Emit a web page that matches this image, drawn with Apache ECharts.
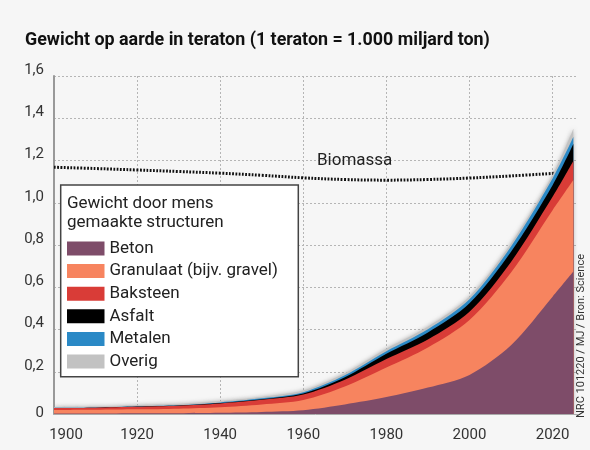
<!DOCTYPE html>
<html><head><meta charset="utf-8">
<script src="https://cdn.jsdelivr.net/npm/echarts@6/dist/echarts.min.js"></script>
<style>html,body{margin:0;padding:0;background:#f6f6f6}#c{width:590px;height:450px}</style>
</head><body><div id="c"></div>
<script>
// ---- data (teraton) ----
const years      = [1900,1910,1920,1930,1940,1950,1960,1970,1980,1990,2000,2010,2020,2025];
const beton      = [0.002,0.002,0.003,0.004,0.006,0.010,0.018,0.045,0.080,0.125,0.185,0.325,0.555,0.674];
const granulaat  = [0.017,0.018,0.019,0.021,0.026,0.035,0.048,0.085,0.140,0.190,0.260,0.345,0.410,0.434];
const baksteen   = [0.009,0.010,0.012,0.014,0.018,0.022,0.026,0.032,0.040,0.038,0.039,0.050,0.063,0.090];
const asfalt     = [0.000,0.000,0.001,0.001,0.002,0.003,0.005,0.012,0.025,0.033,0.040,0.048,0.055,0.080];
const metalen    = [0.001,0.001,0.002,0.002,0.003,0.004,0.006,0.009,0.012,0.015,0.019,0.025,0.032,0.033];
const overig     = [0.004,0.004,0.005,0.005,0.006,0.007,0.008,0.010,0.012,0.012,0.012,0.013,0.015,0.039];
const bioYears   = [1900,1910,1920,1930,1940,1950,1960,1970,1980,1990,2000,2010,2021];
const biomassa   = [1.168,1.162,1.155,1.148,1.140,1.130,1.118,1.110,1.107,1.110,1.117,1.127,1.140];
const seriesNames = ['Beton','Granulaat (bijv. gravel)','Baksteen','Asfalt','Metalen','Overig'];
const seriesData  = [beton, granulaat, baksteen, asfalt, metalen, overig];
const xTicks = [1900,1920,1940,1960,1980,2000,2020];
const titleText = 'Gewicht op aarde in teraton (1 teraton = 1.000 miljard ton)';
const legendTitle = 'Gewicht door mens\ngemaakte structuren';
const bioLabel = 'Biomassa';
const sourceText = 'NRC 101220 / MJ / Bron: Science';

// ---- styling ----
const colors = ['#7e4c69','#f7845f','#d93c37','#000000','#2a89c6','#c2c2c2'];
const ctx = document.createElement('canvas').getContext('2d');
function fit(txt, weight, family, target){ ctx.font = weight+' 100px '+family; return 100*target/ctx.measureText(txt).width; }
const TF = "'Liberation Sans Narrow', Roboto, sans-serif";
const BF = "Roboto, 'Noto Sans', sans-serif";
const titleSize = Math.min(18, fit(titleText,'bold',TF,465));
const legSize = Math.min(17, fit('Granulaat (bijv. gravel)','normal',BF,180));

// stacked tops (running sums of the layers)
const cum = [];
seriesData.forEach((arr,i)=>{ cum.push(arr.map((v,j)=> v + (i ? cum[i-1][j] : 0))); });

const chart = echarts.init(document.getElementById('c'), null, {renderer:'canvas'});
const series = [];
for (let i = seriesNames.length-1; i >= 0; i--) {
  const top = i === seriesNames.length-1;
  series.push({
    name:seriesNames[i], type:'line', smooth:0.3, symbol:'none', z:3,
    color: colors[i],
    lineStyle:{width:0},
    areaStyle: top ? {color:colors[i], opacity:1, shadowBlur:4, shadowColor:'rgba(140,140,140,0.7)'}
                   : {color:colors[i], opacity:1},
    data: years.map((y,j)=>[y, cum[i][j]])
  });
}
series.push({
  name:'Biomassa', type:'line', smooth:0.4, symbol:'none', z:2,
  lineStyle:{color:'#111', width:3, type:[1.8,1.5]},
  data: bioYears.map((y,j)=>[y, biomassa[j]])
});
chart.setOption({
  backgroundColor:'#f6f6f6',
  animation:false,
  textStyle:{fontFamily:BF},
  grid:{left:54, right:12.5, top:76, bottom:36, containLabel:false},
  xAxis:{type:'value', min:1900, max:2026, interval:20,
    axisLine:{show:true, lineStyle:{color:'#aaa', width:1}},
    axisTick:{show:false},
    axisLabel:{color:'#333', fontSize:15, margin:14, showMaxLabel:false,
      formatter:v=> xTicks.indexOf(v)<0 ? '' : (v===1900 ? '{a|'+v+'}' : String(v)),
      rich:{a:{fontSize:15, color:'#333', padding:[0,0,0,24]}}},
    splitLine:{show:true, showMinLine:false, showMaxLine:false, lineStyle:{color:'#b5b5b5', width:1, type:[2,2]}}
  },
  yAxis:{type:'value', min:0, max:1.6, interval:0.2,
    axisLine:{show:true, lineStyle:{color:'#999', width:2}},
    axisTick:{show:false},
    axisLabel:{color:'#333', fontSize:15, margin:10, verticalAlign:'bottom', lineHeight:12,
      formatter:v=> v===0 ? '{z|0}' : v.toFixed(1).replace('.',','),
      rich:{z:{fontSize:15, color:'#333', lineHeight:2}}},
    splitLine:{show:true, showMinLine:false, lineStyle:{color:'#b5b5b5', width:1, type:[2,2]}}
  },
  legend:{show:true, data:seriesNames, orient:'vertical', left:67, top:240, padding:0,
    icon:'rect', itemWidth:37.5, itemHeight:14, itemGap:5.6, selectedMode:false, z:8,
    textStyle:{fontSize:legSize, color:'#222', fontFamily:BF}},
  graphic:[
    {type:'text', left:25, top:32, z:10, style:{text:titleText, fontFamily:TF, fontWeight:'bold', fontSize:titleSize, fill:'#111'}},
    {type:'rect', z:6, shape:{x:60.7, y:185, width:237.6, height:191.7}, style:{fill:'#fff', stroke:'#444', lineWidth:1.5}},
    {type:'text', z:7, x:67, y:193.5, style:{text:legendTitle, fontFamily:BF, fontSize:legSize, lineHeight:19.5, fill:'#222'}},
    {type:'text', z:7, x:317, y:152, style:{text:bioLabel, fontFamily:BF, fontSize:17, fill:'#222'}},
    {type:'text', z:7, x:581, y:336, rotation:Math.PI/2, style:{text:sourceText, fontFamily:BF, fontSize:11, fill:'#333', align:'center', verticalAlign:'middle'}}
  ],
  series:series
});
</script></body></html>
